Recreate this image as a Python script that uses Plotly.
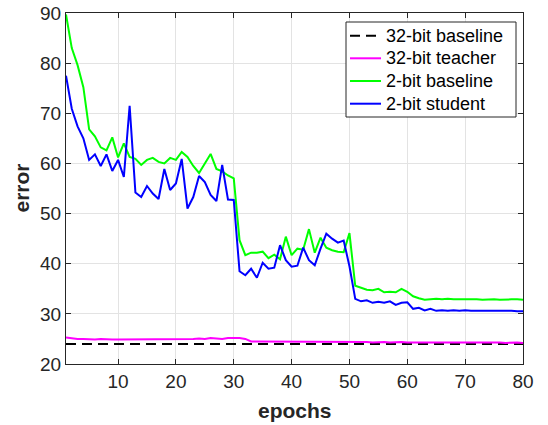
import plotly.graph_objects as go

# Training error per epoch
epochs = list(range(1, 81))

baseline_32bit = [24.0] * 80

teacher_32bit = [
    25.3, 25.1, 25.0, 25.0, 24.9, 24.9, 25.0, 24.9, 24.9, 24.9,
    24.9, 25.0, 24.9, 24.9, 24.9, 25.0, 24.9, 25.0, 24.9, 24.9,
    25.0, 25.0, 25.0, 25.1, 25.0, 25.2, 25.1, 25.0, 25.2, 25.2,
    25.2, 25.0, 24.5, 24.5, 24.5, 24.4, 24.5, 24.5, 24.4, 24.5,
    24.5, 24.4, 24.5, 24.5, 24.5, 24.4, 24.5, 24.5, 24.5, 24.5,
    24.4, 24.4, 24.4, 24.3, 24.4, 24.4, 24.3, 24.4, 24.4, 24.3,
    24.3, 24.4, 24.3, 24.3, 24.4, 24.3, 24.3, 24.3, 24.3, 24.4,
    24.3, 24.3, 24.3, 24.3, 24.3, 24.3, 24.2, 24.3, 24.3, 24.2,
]

baseline_2bit = [
    89.7, 83.0, 79.6, 75.2, 66.8, 65.4, 63.2, 62.6, 65.2, 61.2,
    64.0, 61.3, 60.9, 59.7, 60.7, 61.1, 60.3, 60.0, 61.1, 60.7,
    62.3, 61.3, 59.5, 58.1, 60.0, 61.9, 58.9, 58.4, 57.6, 57.0,
    44.7, 41.7, 42.2, 42.2, 42.4, 41.1, 41.8, 40.9, 45.4, 41.7,
    43.0, 42.8, 46.9, 42.2, 45.2, 43.2, 42.7, 42.4, 42.3, 46.1,
    35.6, 35.2, 34.8, 34.7, 35.0, 34.3, 34.4, 34.3, 35.0, 34.4,
    33.5, 33.1, 32.8, 32.9, 33.0, 32.9, 33.0, 32.9, 32.9, 33.0,
    32.9, 32.9, 32.8, 32.9, 32.9, 32.8, 32.9, 32.9, 32.9, 32.8,
]

student_2bit = [
    77.5, 70.9, 67.4, 65.0, 60.7, 61.8, 59.5, 61.8, 58.5, 60.7,
    57.3, 71.5, 54.2, 53.3, 55.5, 54.0, 52.9, 58.9, 54.7, 56.0,
    60.9, 51.0, 53.3, 57.5, 56.3, 53.7, 52.5, 59.7, 52.8, 52.7,
    38.5, 37.7, 39.0, 37.2, 40.2, 39.0, 39.2, 43.7, 40.7, 39.4,
    39.6, 43.2, 40.7, 39.7, 43.0, 46.0, 45.0, 44.2, 44.6, 39.5,
    33.0, 32.5, 32.7, 32.2, 32.4, 32.2, 32.5, 31.8, 32.2, 32.3,
    31.0, 31.2, 30.7, 31.0, 30.6, 30.7, 30.6, 30.7, 30.6, 30.7,
    30.6, 30.6, 30.7, 30.6, 30.6, 30.7, 30.6, 30.6, 30.5, 30.5,
]

series_names = ["32-bit baseline", "32-bit teacher", "2-bit baseline", "2-bit student"]
series_colors = ["black", "#ff00ff", "#00ff00", "#0000ff"]
series_dashes = ["10px,6px", "solid", "solid", "solid"]

x_ticks = [10, 20, 30, 40, 50, 60, 70, 80]
y_ticks = [20, 30, 40, 50, 60, 70, 80, 90]

FONT = "Liberation Sans, Arial, Helvetica, sans-serif"
INK = "#262626"

W, H = 548, 425
ML, MR, MT, MB = 66, 25, 13, 61
PW, PH = W - ML - MR, H - MT - MB


def px_x(px):
    return (px - ML) / PW


def px_y(py):
    return (H - MB - py) / PH


fig = go.Figure()
for name, ys, color, dash in zip(series_names,
                                 [baseline_32bit, teacher_32bit, baseline_2bit, student_2bit],
                                 series_colors, series_dashes):
    fig.add_trace(go.Scatter(x=epochs, y=ys, mode="lines", name=name,
                             line=dict(color=color, width=2, dash=dash),
                             showlegend=False))

axis_common = dict(
    showgrid=True, gridcolor="#e3e3e3", gridwidth=1,
    showline=True, linecolor=INK, linewidth=1, mirror="allticks",
    ticks="inside", ticklen=5, tickcolor=INK, tickwidth=1,
    zeroline=False, automargin=False,
    tickfont=dict(family=FONT, size=19, color=INK),
)

# Boxed legend in the upper-right corner of the axes
shapes = [dict(type="rect", xref="paper", yref="paper",
               x0=px_x(346), x1=px_x(516), y0=px_y(117), y1=px_y(22),
               line=dict(color=INK, width=1), fillcolor="white", layer="above")]
annotations = []
row_y = [35.7, 58.3, 81.0, 103.7]
for name, color, dash, ry in zip(series_names, series_colors, series_dashes, row_y):
    shapes.append(dict(type="line", xref="paper", yref="paper",
                       x0=px_x(350), x1=px_x(381), y0=px_y(ry), y1=px_y(ry),
                       line=dict(color=color, width=2, dash=dash), layer="above"))
    annotations.append(dict(text=name, xref="paper", yref="paper",
                            x=px_x(384), y=px_y(ry), xanchor="left", yanchor="middle",
                            showarrow=False, font=dict(family=FONT, size=18, color="black")))

# Axis titles
annotations.append(dict(text="<b>epochs</b>", xref="paper", yref="paper",
                        x=0.5, y=px_y(410), xanchor="center", yanchor="middle",
                        showarrow=False, font=dict(family=FONT, size=21, color=INK)))
annotations.append(dict(text="<b>error</b>", xref="paper", yref="paper",
                        x=px_x(21), y=0.5, xanchor="center", yanchor="middle",
                        textangle=-90, showarrow=False,
                        font=dict(family=FONT, size=21, color=INK)))

fig.update_layout(
    width=W, height=H,
    margin=dict(l=ML, r=MR, t=MT, b=MB, autoexpand=False),
    paper_bgcolor="white", plot_bgcolor="white",
    font=dict(family=FONT, color=INK),
    showlegend=False,
    xaxis=dict(range=[1, 80], tickvals=x_ticks, **axis_common),
    yaxis=dict(range=[20, 90], tickvals=y_ticks, **axis_common),
    shapes=shapes,
    annotations=annotations,
)

fig.write_html("out.html")
